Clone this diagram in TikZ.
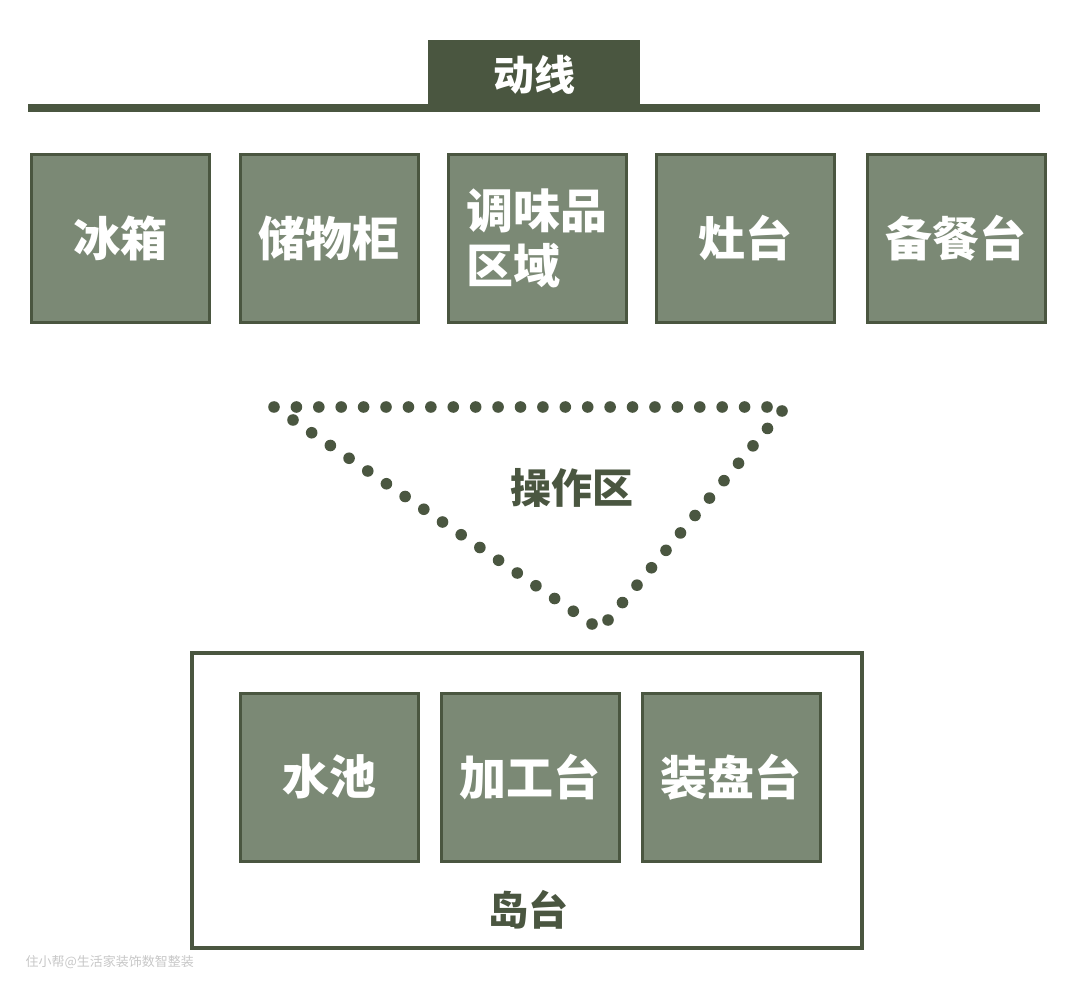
\documentclass[tikz,border=0pt]{standalone}
\usepackage{fontspec}
\newfontfamily\cjk{Noto Sans CJK SC}
\usetikzlibrary{calc}
\definecolor{dk}{HTML}{4A5640}
\definecolor{fl}{HTML}{7B8975}
\tikzset{
  box/.style={draw=dk, line width=3pt, fill=fl, minimum width=178pt, minimum height=168pt, inner sep=0pt},
  wlabel/.style={text=white, font=\cjk\bfseries\fontsize{47pt}{56pt}\selectfont},
  dlabel/.style={text=dk, font=\cjk\bfseries\fontsize{40pt}{48pt}\selectfont},
  dot/.style={fill=dk}
}
\begin{document}
\begin{tikzpicture}[x=1pt,y=-1pt]
\useasboundingbox (0,0) rectangle (1080,992);
% header
\draw[dk, line width=8.5pt] (28,108) -- (1040,108);
\node[fill=dk, minimum width=212pt, minimum height=66pt, inner sep=0pt, anchor=north] (tab) at (534,40) {};
\node[text=white, font=\cjk\bfseries\fontsize{41pt}{48pt}\selectfont] (dongxian) at (534,75) {动线};
% top boxes
\node[box] (b1) at (120.5,238.5) {};
\node[box] (b2) at (329,238.5) {};
\node[box] (b3) at (537,238.5) {};
\node[box] (b4) at (745,238.5) {};
\node[box] (b5) at (956,238.5) {};
\node[wlabel] (t1) at (b1) {冰箱};
\node[wlabel] (t2) at (b2) {储物柜};
\node[wlabel, align=left, font=\cjk\bfseries\fontsize{47pt}{55pt}\selectfont] (t3) at (b3) {调味品\\区域};
\node[wlabel] (t4) at (b4) {灶台};
\node[wlabel] (t5) at (b5) {备餐台};
% dotted triangle
\coordinate (ta) at (274,407);
\coordinate (tb) at (767,407);
\coordinate (la) at (293,420);
\coordinate (lb) at (592,624);
\coordinate (ra) at (608,620);
\coordinate (rb) at (782,411);
\foreach \i in {0,...,22} \fill[dot] ($(ta)!\i/22!(tb)$) circle (5.8);
\foreach \i in {0,...,16} \fill[dot] ($(la)!\i/16!(lb)$) circle (5.8);
\foreach \i in {0,...,12} \fill[dot] ($(ra)!\i/12!(rb)$) circle (5.8);
\node[dlabel, font=\cjk\bfseries\fontsize{41pt}{48pt}\selectfont] (op) at (572,488) {操作区};
% island
\node[draw=dk, line width=3.5pt, fill=white, minimum width=670pt, minimum height=295pt, inner sep=0pt] (island) at (527,800.5) {};
\node[box] (i1) at (329,777) {};
\node[box] (i2) at (530,777) {};
\node[box] (i3) at (731,777) {};
\node[wlabel] (s1) at (i1) {水池};
\node[wlabel] (s2) at (i2) {加工台};
\node[wlabel] (s3) at (i3) {装盘台};
\node[dlabel] (dao) at (528,910) {岛台};
% watermark
\node[text=black!22, font=\cjk\fontsize{13pt}{15pt}\selectfont, anchor=west] (wm) at (22,962) {住小帮@生活家装饰数智整装};
\end{tikzpicture}
\end{document}
